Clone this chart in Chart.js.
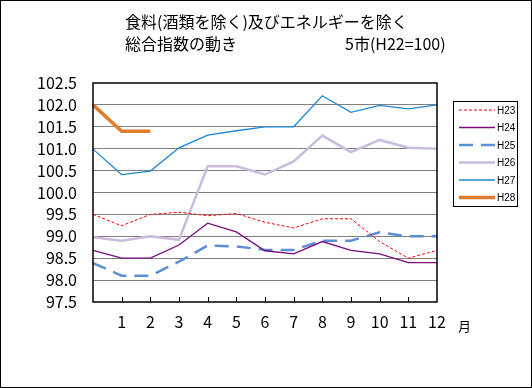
<!DOCTYPE html>
<html>
<head>
<meta charset="utf-8">
<script src="https://cdn.jsdelivr.net/npm/chart.js@4"></script>
<style>
  body { margin: 0; background: #fff; }
  #wrap { width: 532px; height: 388px; }
</style>
</head>
<body>
<div id="wrap"><canvas id="chart" width="532" height="388"></canvas></div>
<script>
// months 0..12 (0 = previous December, not labelled)
const months = ["", "1", "2", "3", "4", "5", "6", "7", "8", "9", "10", "11", "12"];
const seriesNames = ["H23", "H24", "H25", "H26", "H27", "H28"];

const h23 = [99.5, 99.24, 99.5, 99.55, 99.47, 99.52, 99.32, 99.19, 99.4, 99.4, 98.88, 98.5, 98.68];
const h24 = [98.68, 98.5, 98.5, 98.8, 99.3, 99.1, 98.67, 98.6, 98.88, 98.68, 98.6, 98.4, 98.4];
const h25 = [98.39, 98.1, 98.1, 98.42, 98.79, 98.77, 98.69, 98.69, 98.9, 98.9, 99.09, 99.0, 99.0];
const h26 = [98.98, 98.9, 99.0, 98.92, 100.6, 100.6, 100.41, 100.71, 101.3, 100.92, 101.2, 101.02, 101.0];
const h27 = [100.99, 100.41, 100.49, 101.02, 101.31, 101.41, 101.5, 101.5, 102.21, 101.83, 101.99, 101.91, 102.0];
const h28 = [102.0, 101.4, 101.4];

const yMin = 97.5;
const yMax = 102.5;
const yStep = 0.5;

const titleLine1 = "食料(酒類を除く)及びエネルギーを除く";
const titleLine2 = "総合指数の動き";
const titleRight = "5市(H22=100)";
const unitLabel = "月";

const jpFont = "'Noto Sans CJK JP', 'DejaVu Sans', sans-serif";

// title, frame, inner ticks and boxed legend
const decor = {
    id: "decor",
    afterDraw(chart) {
        const ctx = chart.ctx;
        const area = chart.chartArea;
        const xs = chart.scales.x;
        ctx.save();

        // outer border
        ctx.strokeStyle = "#000";
        ctx.lineWidth = 1;
        ctx.strokeRect(0.5, 0.5, 531, 387);

        // plot frame
        ctx.lineWidth = 1.5;
        ctx.strokeRect(area.left, area.top, area.right - area.left, area.bottom - area.top);

        // tick marks pointing inside
        ctx.lineWidth = 1;
        ctx.beginPath();
        for (let i = 1; i < months.length - 1; i++) {
            const px = Math.round(xs.getPixelForTick(i)) + 0.5;
            ctx.moveTo(px, area.bottom);
            ctx.lineTo(px, area.bottom - 5);
        }
        ctx.stroke();

        // title
        ctx.fillStyle = "#000";
        ctx.font = "16px " + jpFont;
        ctx.textBaseline = "middle";
        ctx.textAlign = "left";
        ctx.fillText(titleLine1, 125, 22);
        ctx.fillText(titleLine2, 125, 44);
        ctx.fillText(titleRight, 345, 44);

        // 月
        ctx.font = "13px " + jpFont;
        ctx.fillText(unitLabel, 458, 326);

        // legend
        const lx = 453, ly = 101, lw = 64, lh = 105;
        ctx.lineWidth = 1;
        ctx.strokeStyle = "#000";
        ctx.strokeRect(lx + 0.5, ly + 0.5, lw, lh);
        ctx.font = "10px 'Liberation Sans', sans-serif";
        chart.data.datasets.forEach((ds, i) => {
            const y = ly + 9 + i * 17.5;
            ctx.save();
            ctx.strokeStyle = ds.borderColor;
            ctx.lineWidth = ds.borderWidth;
            ctx.setLineDash(ds.borderDash || []);
            ctx.beginPath();
            ctx.moveTo(lx + 6, y);
            ctx.lineTo(lx + 42, y);
            ctx.stroke();
            ctx.restore();
            ctx.fillStyle = "#000";
            ctx.fillText(ds.label, lx + 44, y + 1);
        });
        ctx.restore();
    }
};

new Chart(document.getElementById("chart"), {
    type: "line",
    data: {
        labels: months,
        datasets: [
            { label: seriesNames[0], data: h23, borderColor: "#ff0000", borderWidth: 1, borderDash: [3, 2] },
            { label: seriesNames[1], data: h24, borderColor: "#7a0c7e", borderWidth: 1.3 },
            { label: seriesNames[2], data: h25, borderColor: "#5a8fd6", borderWidth: 2.5, borderDash: [14, 8] },
            { label: seriesNames[3], data: h26, borderColor: "#c9bcdc", borderWidth: 2.5 },
            { label: seriesNames[4], data: h27, borderColor: "#1f88d0", borderWidth: 1.3 },
            { label: seriesNames[5], data: h28, borderColor: "#e07c2c", borderWidth: 3.5 }
        ]
    },
    options: {
        responsive: false,
        animation: false,
        events: [],
        elements: { point: { radius: 0 }, line: { tension: 0 } },
        layout: { padding: { left: 0, right: 95, top: 83, bottom: 0 } },
        plugins: { legend: { display: false }, tooltip: { enabled: false } },
        scales: {
            x: {
                offset: false,
                grid: { display: false, drawTicks: false },
                border: { display: false },
                ticks: {
                    color: "#000",
                    padding: 10,
                    maxRotation: 0,
                    autoSkip: false,
                    font: { family: jpFont, size: 16 }
                },
                afterFit: s => { s.height = 86; }
            },
            y: {
                min: yMin,
                max: yMax,
                grid: {
                    drawTicks: false,
                    color: c => (c.tick.value === yMin || c.tick.value === yMax) ? "rgba(0,0,0,0)" : "#808080",
                    lineWidth: 1
                },
                border: { display: false },
                ticks: {
                    stepSize: yStep,
                    autoSkip: false,
                    color: "#000",
                    padding: 16,
                    font: { family: jpFont, size: 16 },
                    callback: v => v.toFixed(1)
                },
                afterFit: s => { s.width = 93; }
            }
        }
    },
    plugins: [decor]
});
</script>
</body>
</html>
